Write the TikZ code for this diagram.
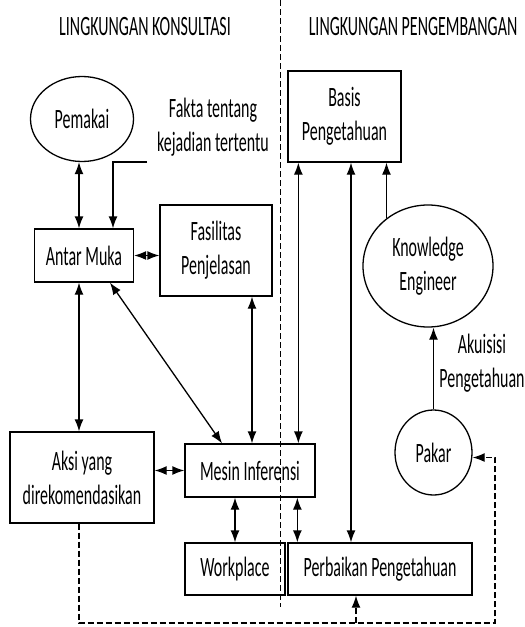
\documentclass[tikz,border=0pt]{standalone}
\usepackage{fontspec}
\setmainfont{Carlito}[FakeStretch=0.57]
\usepackage{tikz}
\usetikzlibrary{arrows.meta, positioning, shapes.geometric}

\begin{document}
\begin{tikzpicture}[x=1pt, y=-1pt,
   >={Latex[length=12pt,width=9pt]}, line width=1.3pt,
   every node/.style={font=\fontsize{28}{34}\selectfont},
   box/.style={draw, align=center, inner sep=2pt, minimum height=53pt},
   tallbox/.style={draw, align=center, inner sep=2pt, minimum height=91pt},
   oval/.style={draw, ellipse, align=center, inner sep=1pt},
   lab/.style={align=center, inner sep=1pt},
   dashline/.style={dash pattern=on 6pt off 3pt},
   divline/.style={line width=0.9pt, dash pattern=on 6pt off 3pt}]
  \useasboundingbox (0,0) rectangle (525,627);
  \node[lab] (konsul) at (145,27) {LINGKUNGAN KONSULTASI};
  \node[lab] (kembang) at (413,27) {LINGKUNGAN PENGEMBANGAN};
  \coordinate (divtop) at (280,0);
  \coordinate (divbot) at (280,607);
  \draw[divline] (divtop) -- (divbot);
  \node[oval, minimum width=103pt, minimum height=85pt] (pemakai) at (82,119) {Pemakai};
  \node[lab] (fakta) at (213,127) {Fakta tentang\\kejadian tertentu};
  \coordinate (faktaend) at (147,162);
  \node[box, minimum width=99pt] (antarmuka) at (84,255.5) {Antar Muka};
  \node[tallbox, minimum width=112pt] (fasilitas) at (216,250.5) {Fasilitas\\Penjelasan};
  \node[tallbox, minimum width=113pt] (basis) at (344.5,116.5) {Basis\\Pengetahuan};
  \node[oval, minimum width=130pt, minimum height=122pt] (engineer) at (428,266) {Knowledge\\Engineer};
  \node[oval, minimum width=77pt, minimum height=85pt] (pakar) at (433.5,452.5) {Pakar};
  \node[lab] (akuisisi) at (482,363) {Akuisisi\\Pengetahuan};
  \node[box, minimum width=130pt] (mesin) at (250,470.5) {Mesin Inferensi};
  \node[tallbox, minimum width=144pt] (aksi) at (82,477.5) {Aksi yang\\direkomendasikan};
  \node[box, minimum width=100pt, minimum height=52pt] (workplace) at (235,569) {Workplace};
  \node[box, minimum width=184pt, minimum height=52pt] (perbaikan) at (380,569) {Perbaikan Pengetahuan};
  \coordinate (loop) at (495,623);
  \draw[<->] ([xshift=-3pt]pemakai.south) -- ([xshift=-3pt]pemakai.south |- antarmuka.north);
  \draw[->] (faktaend) -| ([xshift=29pt]antarmuka.north);
  \draw[<->] (antarmuka.east) -- (antarmuka.east -| fasilitas.west);
  \draw[<->] ([xshift=-5pt]antarmuka.south) -- ([xshift=-5pt]antarmuka.south |- aksi.north);
  \draw[<->] ([xshift=26pt]antarmuka.south) -- ([xshift=-28pt]mesin.north);
  \draw[<->] ([xshift=2pt]mesin.north |- fasilitas.south) -- ([xshift=2pt]mesin.north);
  \draw[<->] ([xshift=11pt]basis.south west) -- ([xshift=11pt]basis.south west |- mesin.north);
  \draw[<->] ([xshift=6.5pt]basis.south) -- ([xshift=6.5pt]basis.south |- perbaikan.north);
  \draw[->] (engineer.131) -- (engineer.131 |- basis.south);
  \draw[->] (pakar.north) -- (pakar.north |- engineer.south);
  \draw[<->] (mesin.west -| aksi.east) -- (mesin.west);
  \draw[<->] (workplace.north |- mesin.south) -- (workplace.north);
  \draw[<->] ([xshift=10pt]perbaikan.north west |- mesin.south) -- ([xshift=10pt]perbaikan.north west);
  \draw[dashline, ->] ([xshift=-3pt]aksi.south) |- (loop) |- ([yshift=-5pt]pakar.east);
  \draw[dashline, ->] ([xshift=-24pt]perbaikan.south |- loop) -- ([xshift=-24pt]perbaikan.south);
\end{tikzpicture}
\end{document}
